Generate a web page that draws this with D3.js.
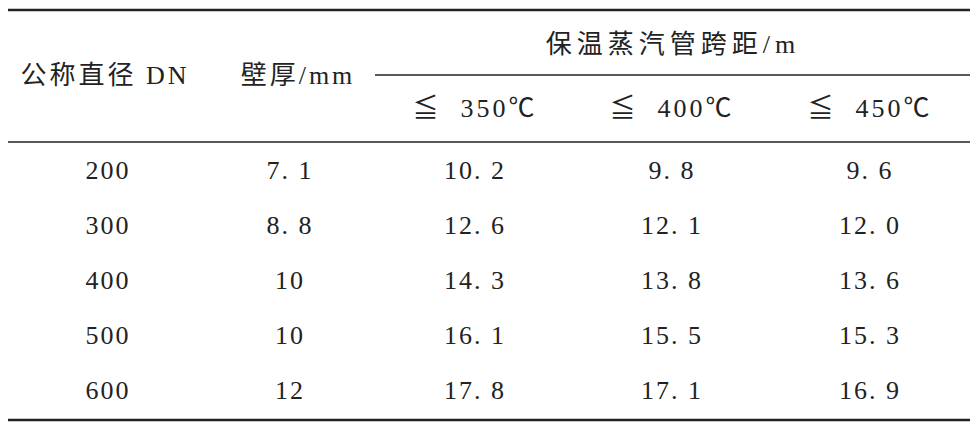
<!DOCTYPE html>
<html><head><meta charset="utf-8">
<script src="https://cdn.jsdelivr.net/npm/d3@7"></script>
<style>body{margin:0;background:#fff}</style>
</head><body>
<script>
const headers = ["公称直径 DN", "壁厚/mm"];
const groupHeader = "保温蒸汽管跨距/m";
const subHeaders = ["≦ 350℃", "≦ 400℃", "≦ 450℃"];
const dn = ["200", "300", "400", "500", "600"];
const wall = ["7.1", "8.8", "10", "10", "12"];
const span350 = ["10.2", "12.6", "14.3", "16.1", "17.8"];
const span400 = ["9.8", "12.1", "13.8", "15.5", "17.1"];
const span450 = ["9.6", "12.0", "13.6", "15.3", "16.9"];

const W = 976, H = 432;
const svg = d3.select("body").append("svg").attr("width", W).attr("height", H);
const xc = i => [108, 290, 475, 672, 870][i];
const y = d3.scalePoint().domain(d3.range(dn.length)).range([170, 390]);
const font = "'Liberation Serif','Noto Sans CJK SC',serif";
const line = (x1, x2, yy, w) => svg.append("line").attr("x1", x1).attr("x2", x2)
  .attr("y1", yy).attr("y2", yy).attr("stroke", "#222").attr("stroke-width", w);
line(8, 970, 10, 2.5);
line(375, 970, 75, 1.5);
line(8, 970, 142, 1.5);
line(8, 970, 420, 2.5);

const txt = (s, cx, cy, fs) => svg.append("text").attr("x", cx).attr("y", cy)
  .attr("text-anchor", "middle").attr("dominant-baseline", "central")
  .attr("font-family", font).attr("font-size", fs).attr("fill", "#222").text(s);
txt(headers[0], 105, 75, 26).attr("letter-spacing", 3);
txt(headers[1], 298, 75, 26).attr("letter-spacing", 3);
txt(groupHeader, 673, 44, 26).attr("letter-spacing", 5);
subHeaders.forEach((s, i) => txt(s.replace("≦ ", "≦  "), xc(i + 2), 108, 26).attr("letter-spacing", 3).attr("xml:space","preserve").style("white-space","pre"));

const rows = dn.map((d, i) => [d, wall[i], span350[i], span400[i], span450[i]]);
rows.forEach((r, i) => r.forEach((v, j) =>
  txt(v.replace(".", ". "), xc(j), y(i), 26).attr("letter-spacing", 2)));
</script>
</body></html>
